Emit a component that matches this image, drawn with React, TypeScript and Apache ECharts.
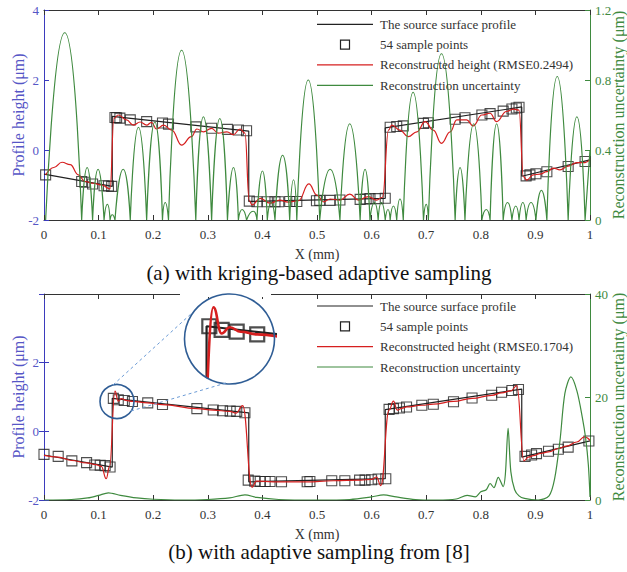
import React, { useEffect, useRef } from "react";
import * as echarts from "echarts";

const SERIF = "Liberation Serif";
const BLUE = "#3b3bbd";
const BLUE_TXT = "#5656c6";
const GREEN = "#3f8a3f";
const RED = "#d61f1f";
const BLACK = "#222222";

// Shared x axis
const X_MIN = 0;
const X_MAX = 1;
const X_STEP = 0.1;

// Source surface profile (same surface in both panels)
const sourceX = [0, 0.125, 0.125, 0.375, 0.375, 0.625, 0.625, 0.875, 0.875, 1];
const sourceY = [-0.69, -1.04, 0.96, 0.54, -1.47, -1.38, 0.63, 1.23, -0.75, -0.28];

// ---------- Panel (a): kriging-based adaptive sampling ----------
const sampleAX = [0.003, 0.069, 0.075, 0.089, 0.11, 0.118, 0.124, 0.13, 0.133, 0.139, 0.158, 0.188, 0.217, 0.228, 0.278, 0.307, 0.336, 0.356, 0.371, 0.376, 0.39, 0.409, 0.423, 0.43, 0.45, 0.463, 0.499, 0.505, 0.524, 0.542, 0.579, 0.59, 0.597, 0.612, 0.625, 0.634, 0.646, 0.658, 0.695, 0.704, 0.753, 0.771, 0.802, 0.817, 0.841, 0.857, 0.865, 0.87, 0.883, 0.89, 0.901, 0.921, 0.96, 0.991];
const sampleAY = [-0.71, -0.9, -0.92, -0.97, -1.02, -1.03, -1.04, 0.93, 0.92, 0.91, 0.86, 0.81, 0.77, 0.74, 0.66, 0.62, 0.59, 0.57, 0.55, -1.46, -1.48, -1.48, -1.48, -1.48, -1.47, -1.47, -1.45, -1.44, -1.44, -1.43, -1.41, -1.4, -1.39, -1.39, -1.38, 0.65, 0.67, 0.69, 0.76, 0.78, 0.88, 0.92, 1.0, 1.04, 1.11, 1.17, 1.2, 1.22, -0.74, -0.71, -0.68, -0.62, -0.47, -0.33];

const reconAX = [0.003, 0.018, 0.033, 0.048, 0.063, 0.075, 0.09, 0.106, 0.121, 0.128, 0.136, 0.151, 0.164, 0.176, 0.188, 0.197, 0.206, 0.219, 0.234, 0.252, 0.27, 0.28, 0.292, 0.307, 0.319, 0.335, 0.347, 0.359, 0.368, 0.376, 0.381, 0.396, 0.414, 0.432, 0.447, 0.466, 0.485, 0.5, 0.512, 0.524, 0.542, 0.56, 0.576, 0.594, 0.609, 0.62, 0.631, 0.637, 0.652, 0.667, 0.683, 0.698, 0.713, 0.728, 0.744, 0.756, 0.774, 0.786, 0.802, 0.817, 0.829, 0.847, 0.86, 0.87, 0.878, 0.884, 0.896, 0.908, 0.921, 0.933, 0.945, 0.96, 0.976, 0.991, 1.0];
const reconAY = [-0.71, -0.5, -0.35, -0.42, -0.71, -0.9, -0.95, -1.0, -1.11, 0.9, 1.0, 0.86, 0.71, 0.8, 0.71, 0.79, 0.6, 0.71, 0.57, 0.14, 0.38, 0.6, 0.52, 0.62, 0.48, 0.52, 0.44, 0.6, 0.48, -1.45, -1.57, -1.38, -1.52, -1.43, -1.49, -1.45, -0.97, -1.29, -1.48, -1.4, -1.43, -1.26, -1.43, -1.33, -1.43, -1.35, 0.57, 0.71, 0.57, 0.38, 0.52, 0.81, 0.57, 0.19, 0.52, 0.86, 0.86, 0.69, 1.0, 1.05, 0.81, 1.1, 1.17, 1.14, -0.76, -0.86, -0.71, -0.69, -0.62, -0.52, -0.57, -0.46, -0.36, -0.36, -0.27];

// Uncertainty (a): alternating zero crossings and lobe peaks
const uncAX = [0.003, 0.038, 0.069, 0.079, 0.089, 0.099, 0.11, 0.116, 0.121, 0.125, 0.13, 0.145, 0.158, 0.173, 0.188, 0.203, 0.217, 0.222, 0.228, 0.252, 0.278, 0.292, 0.307, 0.322, 0.336, 0.347, 0.356, 0.363, 0.371, 0.383, 0.39, 0.4, 0.409, 0.416, 0.423, 0.437, 0.45, 0.457, 0.463, 0.484, 0.505, 0.524, 0.542, 0.56, 0.579, 0.588, 0.597, 0.605, 0.612, 0.618, 0.625, 0.63, 0.634, 0.64, 0.646, 0.652, 0.658, 0.676, 0.695, 0.7, 0.704, 0.728, 0.753, 0.762, 0.771, 0.787, 0.802, 0.81, 0.817, 0.829, 0.841, 0.849, 0.857, 0.864, 0.87, 0.877, 0.883, 0.892, 0.901, 0.911, 0.921, 0.94, 0.96, 0.976, 0.991, 1.0];
const uncAY = [0, 1.07, 0, 0.3, 0, 0.29, 0, 0.09, 0, 0.03, 0, 0.29, 0, 0.53, 0, 0.56, 0, 0.1, 0, 0.97, 0, 0.59, 0, 0.58, 0, 0.3, 0, 0.06, 0, 0.05, 0, 0.28, 0, 0.1, 0, 0.37, 0, 0.23, 0, 0.8, 0, 0.29, 0, 0.55, 0, 0.29, 0, 0.1, 0, 0.1, 0, 0.06, 0, 0.08, 0, 0.12, 0, 0.73, 0, 0.09, 0, 0.95, 0, 0.3, 0, 0.55, 0, 0.06, 0, 0.55, 0, 0.1, 0, 0.08, 0, 0.1, 0, 0.1, 0, 0.17, 0, 0.82, 0, 0.59, 0, 0.4];

// ---------- Panel (b): adaptive sampling from [8] ----------
const sampleBX = [0, 0.026, 0.051, 0.078, 0.093, 0.103, 0.112, 0.121, 0.127, 0.136, 0.147, 0.162, 0.19, 0.217, 0.28, 0.31, 0.327, 0.341, 0.353, 0.368, 0.374, 0.386, 0.396, 0.405, 0.414, 0.435, 0.482, 0.487, 0.527, 0.551, 0.578, 0.588, 0.6, 0.612, 0.626, 0.632, 0.64, 0.651, 0.664, 0.692, 0.713, 0.75, 0.784, 0.82, 0.838, 0.857, 0.869, 0.881, 0.893, 0.902, 0.924, 0.942, 0.96, 0.998];
const sampleBY = [-0.67, -0.73, -0.86, -0.91, -0.98, -0.99, -1.0, -1.04, 0.96, 0.92, 0.9, 0.87, 0.83, 0.78, 0.66, 0.62, 0.6, 0.59, 0.58, 0.54, -1.42, -1.45, -1.46, -1.46, -1.46, -1.47, -1.47, -1.46, -1.44, -1.44, -1.42, -1.42, -1.41, -1.39, -1.38, 0.64, 0.66, 0.68, 0.71, 0.76, 0.79, 0.86, 0.97, 1.05, 1.14, 1.19, 1.22, -0.73, -0.69, -0.65, -0.58, -0.52, -0.46, -0.28];

const reconBX = [0, 0.026, 0.051, 0.078, 0.095, 0.105, 0.114, 0.12, 0.13, 0.136, 0.142, 0.15, 0.162, 0.19, 0.217, 0.28, 0.31, 0.34, 0.352, 0.364, 0.381, 0.389, 0.42, 0.48, 0.53, 0.58, 0.6, 0.609, 0.617, 0.632, 0.64, 0.647, 0.655, 0.664, 0.692, 0.713, 0.75, 0.784, 0.82, 0.838, 0.855, 0.866, 0.879, 0.887, 0.896, 0.91, 0.924, 0.942, 0.957, 0.976, 0.99, 1.0];
const reconBY = [-0.7, -0.75, -0.85, -0.92, -0.97, -1.02, -1.38, -1.02, 1.17, 0.88, 0.95, 0.9, 0.87, 0.83, 0.78, 0.66, 0.62, 0.58, 0.53, 0.75, -1.63, -1.45, -1.47, -1.47, -1.44, -1.42, -1.4, -1.33, -1.58, 0.62, 0.88, 0.62, 0.67, 0.71, 0.76, 0.79, 0.87, 0.96, 1.05, 1.12, 1.18, 1.33, -0.86, -0.75, -0.71, -0.64, -0.6, -0.5, -0.43, -0.31, -0.16, -0.26];

const uncBX = [0, 0.05, 0.08, 0.1, 0.118, 0.14, 0.17, 0.2, 0.25, 0.3, 0.34, 0.368, 0.39, 0.43, 0.5, 0.56, 0.6, 0.622, 0.645, 0.68, 0.72, 0.755, 0.775, 0.79, 0.8, 0.81, 0.817, 0.824, 0.832, 0.841, 0.845, 0.85, 0.855, 0.862, 0.87, 0.88, 0.905, 0.925, 0.935, 0.945, 0.954, 0.965, 0.976, 0.986, 0.992, 0.997, 1.0];
const uncBY = [0, 0.1, 0.4, 0.9, 1.4, 0.9, 0.4, 0.15, 0, 0.1, 0.4, 1.0, 0.5, 0.1, 0, 0.1, 0.6, 1.0, 0.6, 0.1, 0, 0.2, 0.9, 0.6, 1.6, 2.0, 3.2, 2.4, 4.4, 2.6, 5.0, 13.9, 5.5, 2.0, 0.8, 0.3, 0, 0.8, 4.0, 11.5, 20.7, 23.9, 21.2, 16.0, 12.0, 6.8, 0.6];

// Axis ranges
const leftMin = -2, leftMax = 4, leftStep = 2;
const rightAMax = 1.2, rightAStep = 0.4;
const rightBMax = 40, rightBStep = 20;
const insetX = [0.118, 0.175];
const insetY = [0.4, 1.25];

// Text
const captionA = "(a) with kriging-based adaptive sampling";
const captionB = "(b) with adaptive sampling from [8]";
const legendA = ["The source surface profile", "54 sample points", "Reconstructed height (RMSE0.2494)", "Reconstruction uncertainty"];
const legendB = ["The source surface profile", "54 sample points", "Reconstructed height (RMSE0.1704)", "Reconstruction uncertainty"];

const pairs = (xs: number[], ys: number[]) => xs.map((x, i) => [x, ys[i]]);

// Split the alternating zero/peak list into separate arches (zero - peak - zero),
// so each lobe meets the baseline in a cusp as in the original.
function lobes(xs: number[], ys: number[]) {
  const out: any[] = [];
  for (let i = 1; i < xs.length; i += 2) {
    out.push([xs[i - 1], ys[i - 1]]);
    out.push([xs[i], ys[i]]);
    if (i + 1 < xs.length) out.push([xs[i + 1], ys[i + 1]]);
    out.push("-");
  }
  return out;
}

function xAxisBottom(gridIndex: number) {
  return {
    type: "value", gridIndex, position: "bottom", min: X_MIN, max: X_MAX, interval: X_STEP,
    axisLine: { show: true, onZero: false, lineStyle: { color: "#333", width: 1 } },
    axisTick: { show: true, inside: true, length: 5, lineStyle: { color: "#333" } },
    axisLabel: { show: true, color: "#333", fontFamily: SERIF, fontSize: 13, margin: 8, showMinLabel: true, showMaxLabel: true },
    splitLine: { show: false },
    name: "X (mm)", nameLocation: "middle", nameGap: 27, nameMoveOverlap: false,
    nameTextStyle: { color: "#333", fontFamily: SERIF, fontSize: 14 },
  };
}
function xAxisTop(gridIndex: number) {
  return {
    type: "value", gridIndex, position: "top", min: X_MIN, max: X_MAX, interval: X_STEP,
    axisLine: { show: true, onZero: false, lineStyle: { color: "#333", width: 1 } },
    axisTick: { show: true, inside: true, length: 5, lineStyle: { color: "#333" } },
    axisLabel: { show: false }, splitLine: { show: false },
  };
}
function yLeft(gridIndex: number, showMax: boolean) {
  return {
    type: "value", gridIndex, position: "left", min: leftMin, max: leftMax, interval: leftStep,
    axisLine: { show: true, onZero: false, lineStyle: { color: BLUE, width: 1 } },
    axisTick: { show: true, inside: true, length: 5, lineStyle: { color: BLUE } },
    axisLabel: { color: BLUE_TXT, fontFamily: SERIF, fontSize: 13, margin: 5, showMinLabel: true, showMaxLabel: showMax },
    splitLine: { show: false },
    name: "Profile height (μm)", nameLocation: "middle", nameRotate: 90, nameGap: 18, nameMoveOverlap: false,
    nameTextStyle: { color: BLUE_TXT, fontFamily: SERIF, fontSize: 16 },
  };
}
function yRight(gridIndex: number, max: number, step: number) {
  return {
    type: "value", gridIndex, position: "right", min: 0, max, interval: step,
    axisLine: { show: true, onZero: false, lineStyle: { color: GREEN, width: 1 } },
    axisTick: { show: true, inside: true, length: 5, lineStyle: { color: GREEN } },
    axisLabel: { color: GREEN, fontFamily: SERIF, fontSize: 13, margin: 5, showMinLabel: true, showMaxLabel: true },
    splitLine: { show: false },
    name: "Reconstruction uncertainty (μm)", nameLocation: "middle", nameRotate: 90, nameGap: 20, nameMoveOverlap: false,
    nameTextStyle: { color: GREEN, fontFamily: SERIF, fontSize: 16 },
  };
}

function legendGraphics(y0: number, labels: string[]) {
  const rows = [y0, y0 + 20.3, y0 + 40.6, y0 + 61];
  const x1 = 317, x2 = 373;
  const els: any[] = [
    { type: "line", z: 100, shape: { x1, y1: rows[0], x2, y2: rows[0] }, style: { stroke: BLACK, lineWidth: 1.2 } },
    { type: "rect", z: 100, shape: { x: 340.5, y: rows[1] - 4.5, width: 9, height: 9 }, style: { fill: "none", stroke: BLACK, lineWidth: 1.2 } },
    { type: "line", z: 100, shape: { x1, y1: rows[2], x2, y2: rows[2] }, style: { stroke: RED, lineWidth: 1.2 } },
    { type: "line", z: 100, shape: { x1, y1: rows[3], x2, y2: rows[3] }, style: { stroke: GREEN, lineWidth: 1.2 } },
  ];
  labels.forEach((t, i) => {
    els.push({
      type: "text", z: 100, x: 380, y: rows[i],
      style: { text: t, fill: "#333", fontFamily: SERIF, fontSize: 13, align: "left", verticalAlign: "middle" },
    });
  });
  return els;
}

export default function App() {
  const ref = useRef<HTMLDivElement>(null);
  useEffect(() => {
    if (!ref.current) return;
    const chart = echarts.init(ref.current, undefined, { renderer: "svg" });
    const source = pairs(sourceX, sourceY);
    const option: any = {
      animation: false,
      backgroundColor: "#ffffff",
      textStyle: { fontFamily: SERIF },
      grid: [
        { left: 44, top: 10, width: 546, height: 210, containLabel: false, outerBoundsMode: "none" },
        { left: 44, top: 294, width: 546, height: 206, containLabel: false, outerBoundsMode: "none" },
        { left: 197, top: 300, width: 78, height: 77, containLabel: false, outerBoundsMode: "none" },
      ],
      xAxis: [
        xAxisBottom(0), xAxisTop(0), xAxisBottom(1), xAxisTop(1),
        { type: "value", gridIndex: 2, min: insetX[0], max: insetX[1], show: false },
      ],
      yAxis: [
        yLeft(0, true),
        yRight(0, rightAMax, rightAStep),
        yLeft(1, false),
        yRight(1, rightBMax, rightBStep),
        {
          type: "value", gridIndex: 1, position: "right", min: leftMin, max: leftMax, interval: leftStep,
          axisLine: { show: false }, axisTick: { show: true, inside: true, length: 5, lineStyle: { color: BLUE } },
          axisLabel: { show: false }, splitLine: { show: false },
        },
        { type: "value", gridIndex: 2, min: insetY[0], max: insetY[1], show: false },
      ],
      series: [
        // panel (a)
        { type: "line", xAxisIndex: 0, yAxisIndex: 0, data: source, symbol: "none", lineStyle: { color: BLACK, width: 1.2 }, z: 3, silent: true },
        { type: "scatter", xAxisIndex: 0, yAxisIndex: 0, data: pairs(sampleAX, sampleAY), symbol: "rect", symbolSize: 10,
          itemStyle: { color: "rgba(0,0,0,0)", borderColor: BLACK, borderWidth: 1.1 }, z: 4, silent: true },
        { type: "line", xAxisIndex: 0, yAxisIndex: 0, data: pairs(reconAX, reconAY), symbol: "none", smooth: 0.45, smoothMonotone: "x",
          lineStyle: { color: RED, width: 1.2 }, z: 5, silent: true },
        { type: "line", xAxisIndex: 0, yAxisIndex: 1, data: lobes(uncAX, uncAY), symbol: "none", smooth: 0.6, connectNulls: false,
          lineStyle: { color: GREEN, width: 1.2 }, z: 6, silent: true },
        // panel (b)
        { type: "line", xAxisIndex: 2, yAxisIndex: 2, data: source, symbol: "none", lineStyle: { color: BLACK, width: 1.2 }, z: 3, silent: true },
        { type: "scatter", xAxisIndex: 2, yAxisIndex: 2, data: pairs(sampleBX, sampleBY), symbol: "rect", symbolSize: 10,
          itemStyle: { color: "rgba(0,0,0,0)", borderColor: BLACK, borderWidth: 1.1 }, z: 4, silent: true },
        { type: "line", xAxisIndex: 2, yAxisIndex: 2, data: pairs(reconBX, reconBY), symbol: "none", smooth: 0.45, smoothMonotone: "x",
          lineStyle: { color: RED, width: 1.2 }, z: 5, silent: true },
        { type: "line", xAxisIndex: 2, yAxisIndex: 3, data: pairs(uncBX, uncBY), symbol: "none", smooth: 0.3,
          lineStyle: { color: GREEN, width: 1.2 }, z: 6, silent: true },
        // inset (magnified view of panel b)
        { type: "line", xAxisIndex: 4, yAxisIndex: 5, data: source, symbol: "none", lineStyle: { color: BLACK, width: 2.2 }, z: 7, silent: true },
        { type: "scatter", xAxisIndex: 4, yAxisIndex: 5, data: pairs(sampleBX, sampleBY), symbol: "rect", symbolSize: 14,
          itemStyle: { color: "rgba(0,0,0,0)", borderColor: BLACK, borderWidth: 2.2 }, z: 8, silent: true },
        { type: "line", xAxisIndex: 4, yAxisIndex: 5, data: pairs(reconBX, reconBY), symbol: "none", smooth: 0.45, smoothMonotone: "x",
          lineStyle: { color: RED, width: 2.6 }, z: 9, silent: true },
      ],
      graphic: [
        { type: "rect", z: 50, shape: { x: 180, y: 291, width: 91, height: 6 }, style: { fill: "#ffffff" } },
        { type: "circle", z: 60, shape: { cx: 229.5, cy: 339, r: 45 }, style: { fill: "none", stroke: "#2f5d95", lineWidth: 1.6 } },
        { type: "circle", z: 60, shape: { cx: 117, cy: 401.5, r: 17 }, style: { fill: "none", stroke: "#2f5d95", lineWidth: 1.6 } },
        { type: "line", z: 60, shape: { x1: 113, y1: 385, x2: 192, y2: 313 }, style: { stroke: "#6b9bd6", lineWidth: 1, lineDash: [3, 3] } },
        { type: "line", z: 60, shape: { x1: 131, y1: 411, x2: 226, y2: 383 }, style: { stroke: "#6b9bd6", lineWidth: 1, lineDash: [3, 3] } },
        ...legendGraphics(24.3, legendA),
        ...legendGraphics(306, legendB),
        { type: "text", z: 100, x: 319, y: 273, style: { text: captionA, fill: "#111", fontFamily: SERIF, fontSize: 21, align: "center", verticalAlign: "middle" } },
        { type: "text", z: 100, x: 319, y: 552, style: { text: captionB, fill: "#111", fontFamily: SERIF, fontSize: 21, align: "center", verticalAlign: "middle" } },
      ],
    };
    chart.setOption(option);
    return () => chart.dispose();
  }, []);
  return <div ref={ref} style={{ position: "absolute", left: 0, top: 0, width: 627, height: 572 }} />;
}
